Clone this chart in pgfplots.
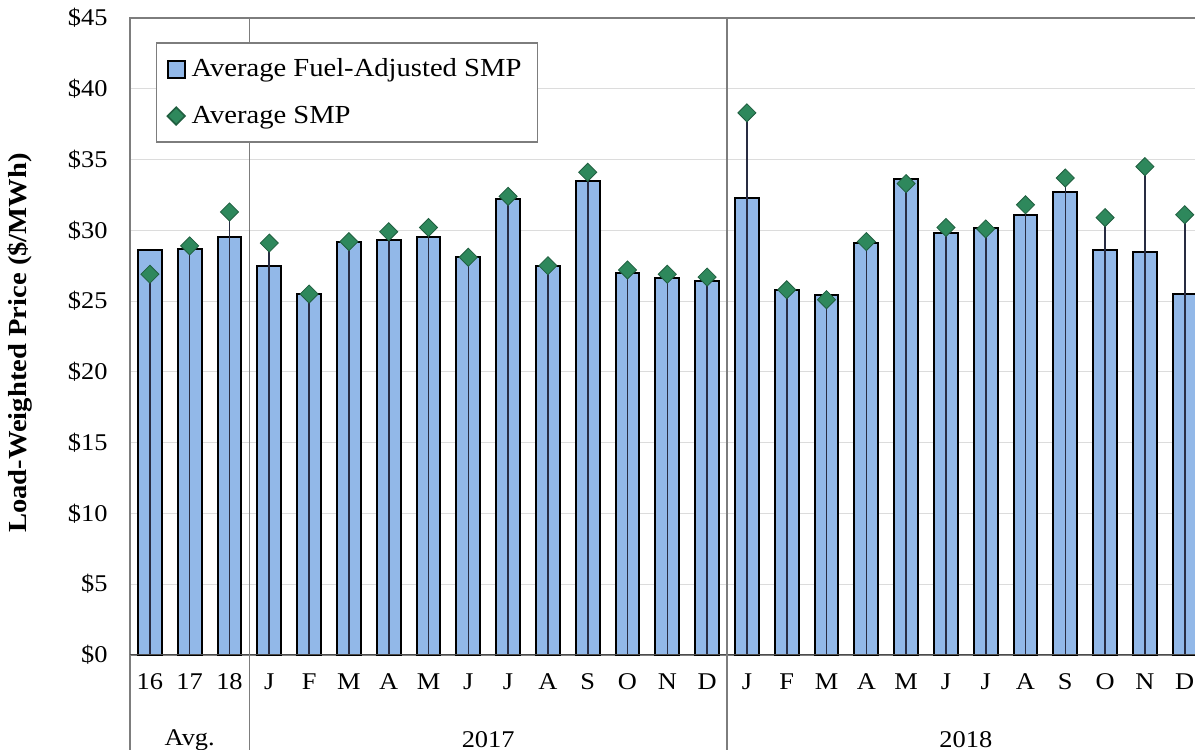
\documentclass[border=0pt]{standalone}
\usepackage{fontspec}
\setmainfont[FakeStretch=1.1]{Liberation Serif}
\usepackage{pgfplots}
\usepackage{pgfplotstable}
\pgfplotsset{compat=1.18}

\definecolor{barblue}{RGB}{146,184,232}
\definecolor{smpgreen}{RGB}{46,136,92}
\definecolor{gridgray}{RGB}{220,220,220}
\definecolor{framegray}{RGB}{125,125,125}
\definecolor{stemgray}{RGB}{40,44,66}

% bars get their own layer: above the grid, below the SMP drop lines
\pgfplotsset{
  layers/withbars/.define layer set={axis background,axis grid,axis ticks,axis lines,axis tick labels,bars,main,axis descriptions,axis foreground}{
    grid style={/pgfplots/on layer=axis grid},
    tick style={/pgfplots/on layer=axis ticks},
    axis line style={/pgfplots/on layer=axis lines},
    label style={/pgfplots/on layer=axis descriptions},
    legend style={/pgfplots/on layer=axis descriptions},
    ticklabel style={/pgfplots/on layer=axis tick labels},
  },
}

% x: category index, fuel: fuel-adjusted SMP, smp: average SMP
\pgfplotstableread{
x  fuel  smp
0  28.6  26.9
1  28.7  28.9
2  29.5  31.3
3  27.5  29.1
4  25.5  25.5
5  29.2  29.2
6  29.3  29.9
7  29.5  30.2
8  28.1  28.1
9  32.2  32.4
10 27.5  27.5
11 33.5  34.1
12 27.0  27.2
13 26.6  26.9
14 26.4  26.7
15 32.3  38.3
16 25.8  25.8
17 25.4  25.1
18 29.1  29.2
19 33.6  33.3
20 29.8  30.2
21 30.2  30.1
22 31.1  31.8
23 32.7  33.7
24 28.6  30.9
25 28.5  34.5
26 25.5  31.1
}\pricedata

\begin{document}
\begin{tikzpicture}
\begin{axis}[
  set layers=withbars,
  at={(0,0)}, anchor=south west,
  scale only axis, width=537.3pt, height=318.5pt,
  xmin=-0.5, xmax=26.5, ymin=0, ymax=45,
  ytick={0,5,...,45},
  yticklabels={\$0,\$5,\$10,\$15,\$20,\$25,\$30,\$35,\$40,\$45},
  xtick={0,...,26},
  xticklabels={16,17,18,J,F,M,A,M,J,J,A,S,O,N,D,J,F,M,A,M,J,J,A,S,O,N,D},
  major tick length=0pt,
  ymajorgrids, grid style={gridgray, line width=0.6pt},
  axis line style={framegray, line width=0.7pt},
  tick label style={font=\fontsize{12}{14}\selectfont},
  yticklabel style={anchor=east, inner sep=0pt, xshift=-11pt},
  xticklabel style={anchor=center, inner sep=0pt, yshift=-13.5pt},
  legend style={at={(axis description cs:0.0242,0.962)}, anchor=north west,
    draw=framegray, fill=white, line width=0.7pt,
    font=\fontsize{13}{15}\selectfont, row sep=9pt,
    inner xsep=5pt, inner ysep=6pt, cells={anchor=west},
    nodes={inner xsep=3pt}},
]
\addplot[ybar, on layer=bars, bar width=0.6, draw=black, line width=1pt, fill=barblue,
  legend image code/.code={\draw[draw=black, line width=0.9pt, fill=barblue] (0pt,-4.2pt) rectangle (8.5pt,4.2pt);}]
  table[x=x, y=fuel] {\pricedata};
\addlegendentry{Average Fuel-Adjusted SMP}
\addplot[ycomb, draw=stemgray, line width=0.8pt, mark=square*, mark size=3.2pt,
  mark options={solid, fill=smpgreen, draw=smpgreen!70!black, line width=0.4pt, rotate=45},
  legend image code/.code={\draw[mark=square*, mark size=3.1pt, mark options={fill=smpgreen, draw=smpgreen!70!black, rotate=45}] plot coordinates {(4.3pt,0pt)};}]
  table[x=x, y=smp] {\pricedata};
\addlegendentry{Average SMP}
\draw[black!70, line width=0.8pt] (axis cs:-0.5,0) -- (axis cs:26.5,0);
\coordinate (sa) at (axis cs:2.5,45);
\coordinate (sb) at (axis cs:14.5,45);
\coordinate (ga) at (axis cs:1,0);
\coordinate (gb) at (axis cs:8.5,0);
\coordinate (gc) at (axis cs:20.5,0);
\end{axis}
\draw[framegray, line width=0.8pt] (sa) -- ++(0,-380pt);
\draw[framegray, line width=0.8pt] (sb) -- ++(0,-380pt);
\draw[framegray, line width=0.8pt] (0,0) -- (0,-60pt);
\begin{scope}[every node/.style={font=\fontsize{12}{14}\selectfont, anchor=center, inner sep=0pt}]
\node at ([yshift=-42.5pt]ga) {Avg.};
\node at ([yshift=-42.5pt]gb) {2017};
\node at ([yshift=-42.5pt]gc) {2018};
\end{scope}
\node[rotate=90, font=\fontsize{13}{15}\selectfont\bfseries] at (-55pt,156pt) {Load-Weighted Price (\$/MWh)};
\pgfresetboundingbox
\useasboundingbox (-65pt,-47.5pt) rectangle (532.5pt,327.5pt);
\end{tikzpicture}
\end{document}
